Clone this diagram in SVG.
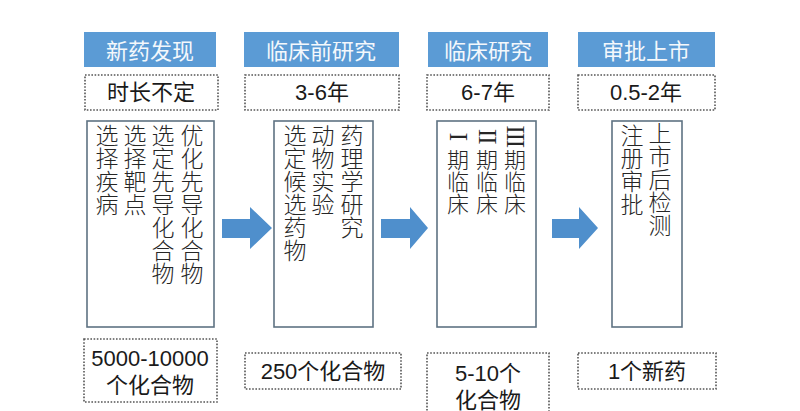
<svg xmlns="http://www.w3.org/2000/svg" width="800" height="411" viewBox="0 0 800 411">
<style>
.hdr{fill:#5B9BD5}
.hdrt{fill:#F4F8FC;font-family:"Noto Sans CJK SC","Liberation Sans",sans-serif;font-size:22px;text-anchor:middle;dominant-baseline:central}
.dot{fill:#fff;stroke:#555;stroke-width:1.6;stroke-dasharray:1.6 1.6}
.lbl{fill:#1a1a1a;font-family:"Liberation Sans","Noto Sans CJK SC",sans-serif;font-size:22px;text-anchor:middle;dominant-baseline:central}
.box{fill:#fff;stroke:#5E7282;stroke-width:1.6}
.vt{fill:#262626;font-family:"Noto Sans CJK SC",sans-serif;font-size:23px;font-weight:300;writing-mode:vertical-rl}
.vt3{fill:#262626;font-family:"Noto Sans CJK SC",sans-serif;font-size:22px;font-weight:300;writing-mode:vertical-rl}
.rn{fill:#262626;font-family:"Liberation Serif",serif;font-size:26px;text-anchor:middle;dominant-baseline:central;letter-spacing:-1.5px}
.arr{fill:#4F8FCC}
</style>
<rect width="800" height="411" fill="#fff"/>
<g id="connectors">
<polygon class="arr" points="222,219 250,219 250,207 272,228 250,249 250,238 222,238"/>
<polygon class="arr" points="381,219 410,219 410,207 428,228 410,249 410,238 381,238"/>
<polygon class="arr" points="552,219 579,219 579,207 598,228 579,249 579,238 552,238"/>
</g>
<g id="stage1">
<rect class="hdr" x="84" y="32" width="132" height="35"/>
<text class="hdrt" x="150" y="49">新药发现</text>
<rect class="dot" x="85" y="75" width="133" height="35"/>
<text class="lbl" x="151" y="92">时长不定</text>
<rect class="box" x="87" y="121" width="127" height="206"/>
<text class="vt" x="107" y="124">选择疾病</text>
<text class="vt" x="135" y="124">选择靶点</text>
<text class="vt" x="163" y="124">选定先导化合物</text>
<text class="vt" x="192" y="124">优化先导化合物</text>
<rect class="dot" x="84" y="339" width="133" height="63"/>
<text class="lbl" x="150" y="358">5000-10000</text>
<text class="lbl" x="150" y="385">个化合物</text>
</g>
<g id="stage2">
<rect class="hdr" x="244" y="32" width="155" height="35"/>
<text class="hdrt" x="321" y="49">临床前研究</text>
<rect class="dot" x="245" y="75" width="154" height="35"/>
<text class="lbl" x="322" y="92">3-6年</text>
<rect class="box" x="274" y="121" width="99" height="206"/>
<text class="vt" x="295" y="124">选定候选药物</text>
<text class="vt" x="323" y="124">动物实验</text>
<text class="vt" x="352" y="124">药理学研究</text>
<rect class="dot" x="245" y="353" width="156" height="36"/>
<text class="lbl" x="323" y="371">250个化合物</text>
</g>
<g id="stage3">
<rect class="hdr" x="428" y="32" width="120" height="35"/>
<text class="hdrt" x="488" y="49">临床研究</text>
<rect class="dot" x="427" y="75" width="122" height="35"/>
<text class="lbl" x="488" y="92">6-7年</text>
<rect class="box" x="437" y="121" width="99" height="206"/>
<text class="rn" transform="translate(458,136) rotate(90)">I</text>
<text class="rn" transform="translate(487,136) rotate(90)">II</text>
<text class="rn" transform="translate(515,136) rotate(90)">III</text>
<text class="vt3" x="458" y="149">期临床</text>
<text class="vt3" x="487" y="149">期临床</text>
<text class="vt3" x="515" y="149">期临床</text>
<rect class="dot" x="427" y="353" width="122" height="62"/>
<text class="lbl" x="488" y="373">5-10个</text>
<text class="lbl" x="488" y="400">化合物</text>
</g>
<g id="stage4">
<rect class="hdr" x="578" y="32" width="137" height="35"/>
<text class="hdrt" x="646" y="49">审批上市</text>
<rect class="dot" x="578" y="75" width="137" height="35"/>
<text class="lbl" x="646" y="92">0.5-2年</text>
<rect class="box" x="612" y="121" width="70" height="206"/>
<text class="vt" x="632" y="124">注册审批</text>
<text class="vt" x="660" y="122">上市后检测</text>
<rect class="dot" x="578" y="353" width="138" height="36"/>
<text class="lbl" x="647" y="371">1个新药</text>
</g>
</svg>
